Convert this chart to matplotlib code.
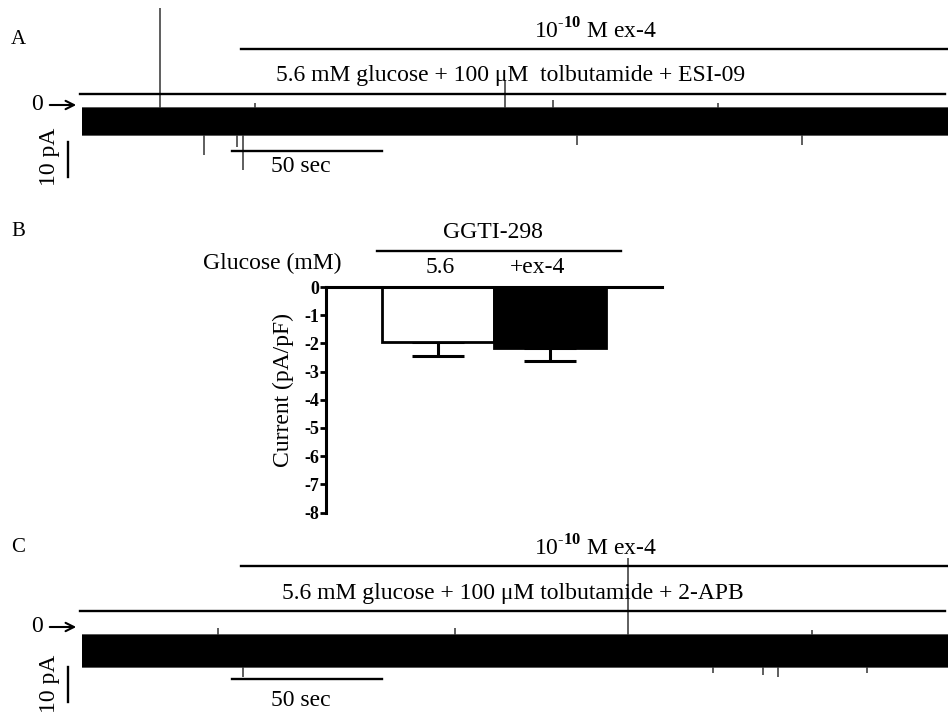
import matplotlib
matplotlib.use("Agg")
import matplotlib.pyplot as plt

plt.rcParams['font.family'] = ['Liberation Serif', 'DejaVu Serif']
plt.rcParams['mathtext.fontset'] = 'custom'
plt.rcParams['mathtext.rm'] = 'Liberation Serif'
plt.rcParams['mathtext.bf'] = 'Liberation Serif:bold'

# ---------------- data ----------------
# Panel A trace (time in s, current in pA)
trace_a_end = 289.3
band_a = (-8.6, -0.9)                     # noise envelope (low, high)
spikes_a_t = [26.7, 141.7, 157.8, 212.7, 58.3, 41.3, 52.3, 54.3, 165.7, 240.7]
spikes_a_amp = [27.7, 7.1, 1.4, 0.6, 0.6, -14.3, -12.0, -18.6, -11.4, -11.4]
label_a = "5.6 mM glucose + 100 \u03bcM  tolbutamide + ESI-09"

# Panel C trace
trace_c_end = 289.3
band_c = (-11.4, -2.3)
spikes_c_t = [182.7, 46.0, 125.0, 244.0, 54.3, 211.0, 227.7, 232.7, 262.3]
spikes_c_amp = [19.7, -0.3, -0.3, -0.8, -14.3, -13.1, -13.7, -14.3, -13.1]
label_c = "5.6 mM glucose + 100 \u03bcM tolbutamide + 2-APB"

ex4_label = r"10$^{\text{-}\mathbf{10}}$ M ex-4"
ex4_start = 53.7
glucose_start = 0.0
glucose_end = 288.3

# Panel B bar chart
b_categories = ["5.6", "+ex-4"]
b_values = [-1.95, -2.17]
b_sem = [0.50, 0.46]
b_colors = ["white", "black"]
b_yticks = [0, -1, -2, -3, -4, -5, -6, -7, -8]

# ---------------- layout ----------------
W, H = 948, 715
fig = plt.figure(figsize=(W / 100, H / 100), dpi=100)


def rect(l, t, r, b):
    return [l / W, 1 - b / H, (r - l) / W, (b - t) / H]


def px2fig(x, y):
    return x / W, 1 - y / H


PX_PER_S = 3.0
PX_PER_PA = 3.5
FS = 17


def trace_panel(top, bottom, zero_px, band, sp_t, sp_amp, end_t, label,
                glu_px, ex4_px, ex4_txt_px, lab_px, bar50_px, txt50_px,
                pa_bar_top_px, pa_txt_px):
    ax = fig.add_axes(rect(80, top, 948, bottom))
    ax.set_xlim(0, (948 - 80) / PX_PER_S)
    ax.set_ylim((zero_px - bottom) / PX_PER_PA, (zero_px - top) / PX_PER_PA)
    ax.axis('off')

    def ypa(px):
        return (zero_px - px) / PX_PER_PA

    def xs(px):
        return (px - 80) / PX_PER_S

    # trace band (ragged edge suggested by a grey rim)
    ax.fill_between([0.6, end_t], band[0] - 0.35, band[1] + 0.35, color='0.35', lw=0)
    ax.fill_between([0.6, end_t], band[0], band[1], color='black', lw=0)
    for t, a in zip(sp_t, sp_amp):
        base = band[1] if a > band[1] else band[0]
        ax.vlines(t, base, a, color='0.2', lw=1.1)
    # solution bars
    ax.plot([glucose_start, glucose_end], [ypa(glu_px)] * 2, color='black', lw=1.7, clip_on=False)
    ax.plot([ex4_start, end_t], [ypa(ex4_px)] * 2, color='black', lw=1.7, clip_on=False)
    ax.text(xs(ex4_txt_px[0]), ypa(ex4_txt_px[1]), ex4_label, ha='center', va='center', fontsize=FS)
    ax.text(xs(lab_px[0]), ypa(lab_px[1]), label, ha='center', va='center', fontsize=FS)
    # zero arrow
    ax.annotate('', xy=(xs(79), 0), xytext=(xs(47), 0),
                arrowprops=dict(arrowstyle='->', lw=1.5, color='black', mutation_scale=15),
                annotation_clip=False)
    ax.text(xs(37), 0, "0", ha='center', va='center', fontsize=FS, clip_on=False)
    # scale bars
    y50 = ypa(bar50_px)
    ax.plot([xs(232), xs(232) + 50], [y50, y50], color='black', lw=1.7, clip_on=False)
    ax.text(xs(txt50_px[0]), ypa(txt50_px[1]), "50 sec", ha='center', va='center', fontsize=FS)
    yt = ypa(pa_bar_top_px)
    ax.plot([xs(68), xs(68)], [yt, yt - 10], color='black', lw=1.7, clip_on=False)
    ax.text(xs(pa_txt_px[0]), ypa(pa_txt_px[1]), "10 pA", ha='center', va='center',
            rotation=90, fontsize=FS, clip_on=False)
    return ax


trace_panel(0, 190, 105, band_a, spikes_a_t, spikes_a_amp, trace_a_end, label_a,
            glu_px=94, ex4_px=49, ex4_txt_px=(596, 31), lab_px=(511, 75),
            bar50_px=151, txt50_px=(301, 166), pa_bar_top_px=142, pa_txt_px=(49, 157))

trace_panel(540, 715, 627, band_c, spikes_c_t, spikes_c_amp, trace_c_end, label_c,
            glu_px=611, ex4_px=566, ex4_txt_px=(596, 548), lab_px=(513, 594),
            bar50_px=679, txt50_px=(301, 700), pa_bar_top_px=667, pa_txt_px=(49, 684))

# panel letters
for letter, (x, y) in zip("ABC", [(18, 40), (18, 232), (18, 548)]):
    fig.text(*px2fig(x, y), letter, ha='center', va='center', fontsize=15)

# ---------------- Panel B ----------------
axb = fig.add_axes(rect(326, 287, 662, 512.5))
xpos = [1, 2]
axb.bar(xpos, b_values, width=1.0, color=b_colors, edgecolor='black', linewidth=2.0, zorder=2)
axb.errorbar(xpos, b_values, yerr=[b_sem, [0, 0]], fmt='none', ecolor='black',
             elinewidth=2.2, capsize=19, capthick=2.2, zorder=1)
axb.set_xlim(0, 3)
axb.set_ylim(-8, 0)
axb.set_yticks(b_yticks)
axb.set_yticklabels([str(v) for v in b_yticks], fontweight='bold', fontsize=13)
axb.set_xticks([])
for s in ['right', 'bottom']:
    axb.spines[s].set_visible(False)
for s in ['left', 'top']:
    axb.spines[s].set_linewidth(2.2)
axb.tick_params(axis='y', direction='out', length=4, width=2.0, pad=1)
axb.patch.set_alpha(0)

fig.text(*px2fig(283, 390), "Current (pA/pF)", rotation=90, ha='center', va='center', fontsize=FS)
fig.text(*px2fig(272, 263), "Glucose (mM)", ha='center', va='center', fontsize=FS)
fig.text(*px2fig(440, 268), b_categories[0], ha='center', va='center', fontsize=FS)
fig.text(*px2fig(538, 268), b_categories[1], ha='center', va='center', fontsize=FS)
fig.text(*px2fig(493, 233), "GGTI-298", ha='center', va='center', fontsize=FS)
x0, y0 = px2fig(377, 251)
x1, _ = px2fig(621, 251)
fig.add_artist(plt.Line2D([x0, x1], [y0, y0], color='black', lw=1.7))

fig.savefig("out.png", dpi=100)
